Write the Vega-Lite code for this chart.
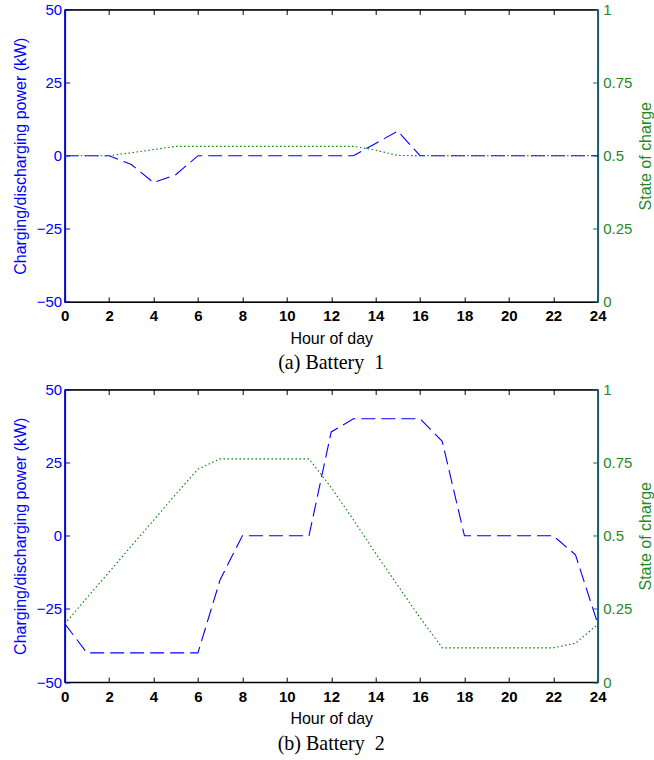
{
  "$schema": "https://vega.github.io/schema/vega-lite/v6.json",
  "background": "white",
  "padding": {"left": 10.7, "top": 1.5, "right": 2, "bottom": 2},
  "datasets": {
    "b1": [
      {"hour": 0, "power": 0, "soc": 0.5},
      {"hour": 1, "power": 0, "soc": 0.5},
      {"hour": 2, "power": 0, "soc": 0.5},
      {"hour": 3, "power": -3, "soc": 0.51},
      {"hour": 4, "power": -9.2, "soc": 0.521},
      {"hour": 5, "power": -6.5, "soc": 0.532},
      {"hour": 6, "power": 0, "soc": 0.532},
      {"hour": 7, "power": 0, "soc": 0.532},
      {"hour": 8, "power": 0, "soc": 0.532},
      {"hour": 9, "power": 0, "soc": 0.532},
      {"hour": 10, "power": 0, "soc": 0.532},
      {"hour": 11, "power": 0, "soc": 0.532},
      {"hour": 12, "power": 0, "soc": 0.532},
      {"hour": 13, "power": 0, "soc": 0.532},
      {"hour": 14, "power": 4.2, "soc": 0.519},
      {"hour": 15, "power": 8.4, "soc": 0.501},
      {"hour": 16, "power": 0, "soc": 0.5},
      {"hour": 17, "power": 0, "soc": 0.5},
      {"hour": 18, "power": 0, "soc": 0.5},
      {"hour": 19, "power": 0, "soc": 0.5},
      {"hour": 20, "power": 0, "soc": 0.5},
      {"hour": 21, "power": 0, "soc": 0.5},
      {"hour": 22, "power": 0, "soc": 0.5},
      {"hour": 23, "power": 0, "soc": 0.5},
      {"hour": 24, "power": 0, "soc": 0.5}
    ],
    "b2": [
      {"hour": 0, "power": -30, "soc": 0.199},
      {"hour": 1, "power": -40, "soc": 0.288},
      {"hour": 2, "power": -40, "soc": 0.376},
      {"hour": 3, "power": -40, "soc": 0.465},
      {"hour": 4, "power": -40, "soc": 0.553},
      {"hour": 5, "power": -40, "soc": 0.642},
      {"hour": 6, "power": -40, "soc": 0.728},
      {"hour": 7, "power": -15, "soc": 0.763},
      {"hour": 8, "power": 0, "soc": 0.763},
      {"hour": 9, "power": 0, "soc": 0.763},
      {"hour": 10, "power": 0, "soc": 0.763},
      {"hour": 11, "power": 0, "soc": 0.763},
      {"hour": 12, "power": 35.5, "soc": 0.665},
      {"hour": 13, "power": 40, "soc": 0.555},
      {"hour": 14, "power": 40, "soc": 0.44},
      {"hour": 15, "power": 40, "soc": 0.33},
      {"hour": 16, "power": 40, "soc": 0.22},
      {"hour": 17, "power": 32.3, "soc": 0.117},
      {"hour": 18, "power": 0, "soc": 0.117},
      {"hour": 19, "power": 0, "soc": 0.117},
      {"hour": 20, "power": 0, "soc": 0.117},
      {"hour": 21, "power": 0, "soc": 0.117},
      {"hour": 22, "power": 0, "soc": 0.117},
      {"hour": 23, "power": -6.5, "soc": 0.133},
      {"hour": 24, "power": -30, "soc": 0.197}
    ]
  },
  "config": {
    "font": "Liberation Sans",
    "view": {"stroke": "black", "strokeWidth": 1.2},
    "axis": {"grid": false, "labelFont": "Liberation Sans", "titleFont": "Liberation Sans", "titleFontWeight": "normal", "labelFontSize": 15, "titleFontSize": 16, "tickSize": -5, "labelOverlap": false, "labelFlush": false},
    "title": {"font": "Liberation Serif", "fontSize": 20, "fontWeight": "normal", "color": "black"}
  },
  "spacing": 7,
  "vconcat": [
    {
      "width": 533,
      "height": 292.4,
      "data": {"name": "b1"},
      "title": {"text": "(a) Battery\u00a0 1", "orient": "bottom", "offset": 7},
      "layer": [
        {
          "mark": {"type": "line", "color": "#0000ff", "strokeDash": [14, 6], "strokeWidth": 1.1},
          "encoding": {
            "x": {"field": "hour", "type": "quantitative", "scale": {"domain": [0, 24], "nice": false},
              "axis": {"orient": "bottom", "values": [0,2,4,6,8,10,12,14,16,18,20,22,24], "title": "Hour of day", "titleColor": "black", "labelColor": "black", "labelFontWeight": "bold", "domainColor": "black", "domainWidth": 1.2, "tickColor": "black", "labelPadding": 12, "titlePadding": 6.5}},
            "y": {"field": "power", "type": "quantitative", "scale": {"domain": [-50, 50], "nice": false},
              "axis": {"orient": "left", "values": [-50,-25,0,25,50], "title": "Charging/discharging power (kW)", "titleColor": "#0000ff", "labelColor": "#0000ff", "domainColor": "#0000ff", "domainWidth": 1.8, "tickColor": "#0000ff", "labelPadding": 8, "titlePadding": 8}}
          }
        },
        {
          "mark": {"type": "line", "color": "#008000", "strokeDash": [1.5, 2.5], "strokeWidth": 1.1},
          "encoding": {
            "x": {"field": "hour", "type": "quantitative",
              "axis": {"orient": "top", "values": [0,2,4,6,8,10,12,14,16,18,20,22,24], "labels": false, "title": null, "domainColor": "black", "domainWidth": 1.2, "tickColor": "black"}},
            "y": {"field": "soc", "type": "quantitative", "scale": {"domain": [0, 1], "nice": false},
              "axis": {"orient": "right", "values": [0,0.25,0.5,0.75,1], "labelExpr": "'' + datum.value", "title": "State of charge", "titleAngle": -90, "titleBaseline": "top", "titleColor": "#1f8a1f", "labelColor": "#1f8a1f", "domainColor": "#1b5e70", "domainWidth": 1.8, "tickColor": "#1b7060", "labelPadding": 10, "titlePadding": 6}}
          }
        }
      ],
      "resolve": {"scale": {"y": "independent"}, "axis": {"x": "independent", "y": "independent"}}
    },
    {
      "width": 533,
      "height": 292.6,
      "data": {"name": "b2"},
      "title": {"text": "(b) Battery\u00a0 2", "orient": "bottom", "offset": 7},
      "layer": [
        {
          "mark": {"type": "line", "color": "#0000ff", "strokeDash": [14, 6], "strokeWidth": 1.1},
          "encoding": {
            "x": {"field": "hour", "type": "quantitative", "scale": {"domain": [0, 24], "nice": false},
              "axis": {"orient": "bottom", "values": [0,2,4,6,8,10,12,14,16,18,20,22,24], "title": "Hour of day", "titleColor": "black", "labelColor": "black", "labelFontWeight": "bold", "domainColor": "black", "domainWidth": 1.2, "tickColor": "black", "labelPadding": 12, "titlePadding": 6.5}},
            "y": {"field": "power", "type": "quantitative", "scale": {"domain": [-50, 50], "nice": false},
              "axis": {"orient": "left", "values": [-50,-25,0,25,50], "title": "Charging/discharging power (kW)", "titleColor": "#0000ff", "labelColor": "#0000ff", "domainColor": "#0000ff", "domainWidth": 1.8, "tickColor": "#0000ff", "labelPadding": 8, "titlePadding": 8}}
          }
        },
        {
          "mark": {"type": "line", "color": "#008000", "strokeDash": [1.5, 2.5], "strokeWidth": 1.1},
          "encoding": {
            "x": {"field": "hour", "type": "quantitative",
              "axis": {"orient": "top", "values": [0,2,4,6,8,10,12,14,16,18,20,22,24], "labels": false, "title": null, "domainColor": "black", "domainWidth": 1.2, "tickColor": "black"}},
            "y": {"field": "soc", "type": "quantitative", "scale": {"domain": [0, 1], "nice": false},
              "axis": {"orient": "right", "values": [0,0.25,0.5,0.75,1], "labelExpr": "'' + datum.value", "title": "State of charge", "titleAngle": -90, "titleBaseline": "top", "titleColor": "#1f8a1f", "labelColor": "#1f8a1f", "domainColor": "#1b5e70", "domainWidth": 1.8, "tickColor": "#1b7060", "labelPadding": 10, "titlePadding": 6}}
          }
        }
      ],
      "resolve": {"scale": {"y": "independent"}, "axis": {"x": "independent", "y": "independent"}}
    }
  ]
}
